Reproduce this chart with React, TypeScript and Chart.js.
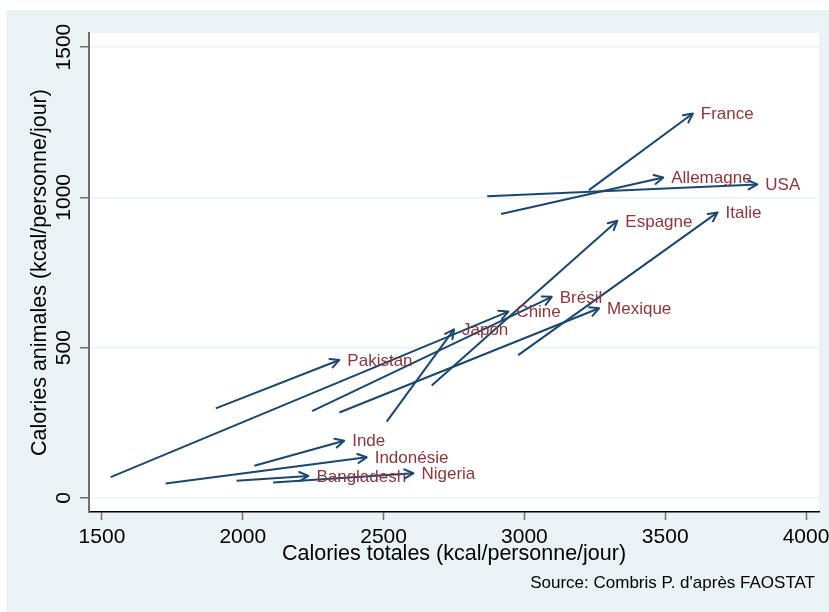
import { useEffect, useRef } from 'react';
import { Chart, registerables } from 'chart.js';

Chart.register(...registerables);

// ---- Data ----
const countries = ['France', 'Allemagne', 'USA', 'Espagne', 'Italie', 'Brésil', 'Chine', 'Mexique', 'Japon', 'Pakistan', 'Inde', 'Indonésie', 'Bangladesh', 'Nigeria'];
const totalStart = [3229, 2917, 2868, 2671, 2978, 2246, 1531, 2343, 2511, 1904, 2041, 1726, 1978, 2108];
const animalStart = [1024, 945, 1004, 374, 475, 289, 69, 284, 254, 298, 107, 48, 57, 51];
const totalEnd = [3598, 3493, 3827, 3330, 3686, 3097, 2943, 3265, 2750, 2343, 2360, 2440, 2233, 2606];
const animalEnd = [1279, 1066, 1043, 922, 950, 669, 620, 631, 561, 459, 190, 135, 73, 82];

const xTicks = [1500, 2000, 2500, 3000, 3500, 4000];
const yTicks = [0, 500, 1000, 1500];

const xTitle = 'Calories totales (kcal/personne/jour)';
const yTitle = 'Calories animales (kcal/personne/jour)';
const sourceNote = "Source: Combris P. d'après FAOSTAT";

// ---- Styles ----
const FONT = "'Liberation Sans', Arial, Helvetica, sans-serif";
const NAVY = '#1a476f';
const MAROON = '#90353b';
const BG = '#eaf2f3';
const AXIS_GRAY = '#6e6e6e';

const backgroundPlugin = {
  id: 'stataBackground',
  beforeDraw(chart: any) {
    const { ctx, chartArea, width, height } = chart;
    ctx.save();
    ctx.fillStyle = '#ffffff';
    ctx.fillRect(0, 0, width, height);
    ctx.fillStyle = BG;
    ctx.fillRect(6, 10, width - 6, height - 10);
    ctx.fillStyle = '#ffffff';
    ctx.fillRect(chartArea.left, chartArea.top, chartArea.right - chartArea.left, chartArea.bottom - chartArea.top);
    ctx.restore();
  },
};

const arrowPlugin = {
  id: 'arrowsAndLabels',
  afterDatasetsDraw(chart: any) {
    const { ctx } = chart;
    ctx.save();
    chart.data.datasets.forEach((ds: any, i: number) => {
      const meta = chart.getDatasetMeta(i);
      if (!meta || meta.data.length < 2) return;
      const p0 = meta.data[0];
      const p1 = meta.data[1];
      const ang = Math.atan2(p1.y - p0.y, p1.x - p0.x);
      const len = 10;
      const half = (27 * Math.PI) / 180;
      ctx.strokeStyle = NAVY;
      ctx.lineWidth = 2;
      ctx.lineCap = 'round';
      ctx.lineJoin = 'round';
      ctx.beginPath();
      ctx.moveTo(p1.x - len * Math.cos(ang - half), p1.y - len * Math.sin(ang - half));
      ctx.lineTo(p1.x, p1.y);
      ctx.lineTo(p1.x - len * Math.cos(ang + half), p1.y - len * Math.sin(ang + half));
      ctx.stroke();

      ctx.fillStyle = MAROON;
      ctx.font = `17px ${FONT}`;
      ctx.textAlign = 'left';
      ctx.textBaseline = 'middle';
      ctx.fillText(ds.label, p1.x + 8, p1.y + 1);
    });
    ctx.restore();
  },
};

const sourcePlugin = {
  id: 'sourceNote',
  afterDraw(chart: any) {
    const { ctx } = chart;
    ctx.save();
    ctx.fillStyle = '#000000';
    ctx.font = `17px ${FONT}`;
    ctx.textAlign = 'right';
    ctx.textBaseline = 'middle';
    ctx.fillText(sourceNote, 815, 583);
    ctx.restore();
  },
};

export default function App() {
  const canvasRef = useRef<HTMLCanvasElement | null>(null);

  useEffect(() => {
    document.body.style.margin = '0';
    const canvas = canvasRef.current;
    if (!canvas) return;

    const datasets = countries.map((name, i) => ({
      label: name,
      data: [
        { x: totalStart[i], y: animalStart[i] },
        { x: totalEnd[i], y: animalEnd[i] },
      ],
      showLine: true,
      borderColor: NAVY,
      backgroundColor: NAVY,
      borderWidth: 2,
      pointRadius: 0,
      pointHoverRadius: 0,
      fill: false,
    }));

    const chart = new Chart(canvas, {
      type: 'scatter',
      data: { datasets },
      options: {
        animation: false,
        responsive: false,
        maintainAspectRatio: false,
        layout: { padding: { left: 0, top: 33, right: 10, bottom: 0 } },
        plugins: {
          legend: { display: false },
          tooltip: { enabled: false },
        },
        scales: {
          x: {
            type: 'linear',
            min: 1454,
            max: 4046,
            afterBuildTicks: (scale: any) => {
              scale.ticks = xTicks.map((v) => ({ value: v }));
            },
            afterFit: (scale: any) => {
              scale.height = 100;
              scale.paddingLeft = 0;
              scale.paddingRight = 0;
            },
            ticks: {
              color: '#000000',
              font: { family: FONT, size: 21 },
              padding: 4.9,
              maxRotation: 0,
              minRotation: 0,
              autoSkip: false,
              callback: (v: any) => String(v),
            },
            grid: {
              drawOnChartArea: false,
              drawTicks: true,
              tickLength: 8,
              tickColor: AXIS_GRAY,
              tickWidth: 1.5,
            },
            border: { display: true, color: '#000000', width: 1.5 },
            title: {
              display: true,
              text: xTitle,
              color: '#000000',
              font: { family: FONT, size: 21.5 },
              padding: { top: 0, bottom: 45 },
            },
          },
          y: {
            type: 'linear',
            min: -47,
            max: 1547,
            afterBuildTicks: (scale: any) => {
              scale.ticks = yTicks.map((v) => ({ value: v }));
            },
            afterFit: (scale: any) => {
              scale.width = 89;
              scale.paddingTop = 0;
              scale.paddingBottom = 0;
            },
            ticks: {
              color: '#000000',
              font: { family: FONT, size: 21 },
              minRotation: 90,
              maxRotation: 90,
              crossAlign: 'center',
              padding: -7.8,
              autoSkip: false,
              callback: (v: any) => String(v),
            },
            grid: {
              color: BG,
              lineWidth: 1.5,
              drawTicks: true,
              tickLength: 9,
              tickColor: AXIS_GRAY,
              tickWidth: 1.5,
            },
            border: { display: true, color: AXIS_GRAY, width: 2 },
            title: {
              display: true,
              text: yTitle,
              color: '#000000',
              font: { family: FONT, size: 21.5 },
              padding: { top: 27.4, bottom: 0 },
            },
          },
        },
      },
      plugins: [backgroundPlugin, arrowPlugin, sourcePlugin],
    } as any);

    return () => {
      chart.destroy();
    };
  }, []);

  return (
    <canvas
      ref={canvasRef}
      width={829}
      height={612}
      style={{ display: 'block', width: '829px', height: '612px' }}
    />
  );
}
